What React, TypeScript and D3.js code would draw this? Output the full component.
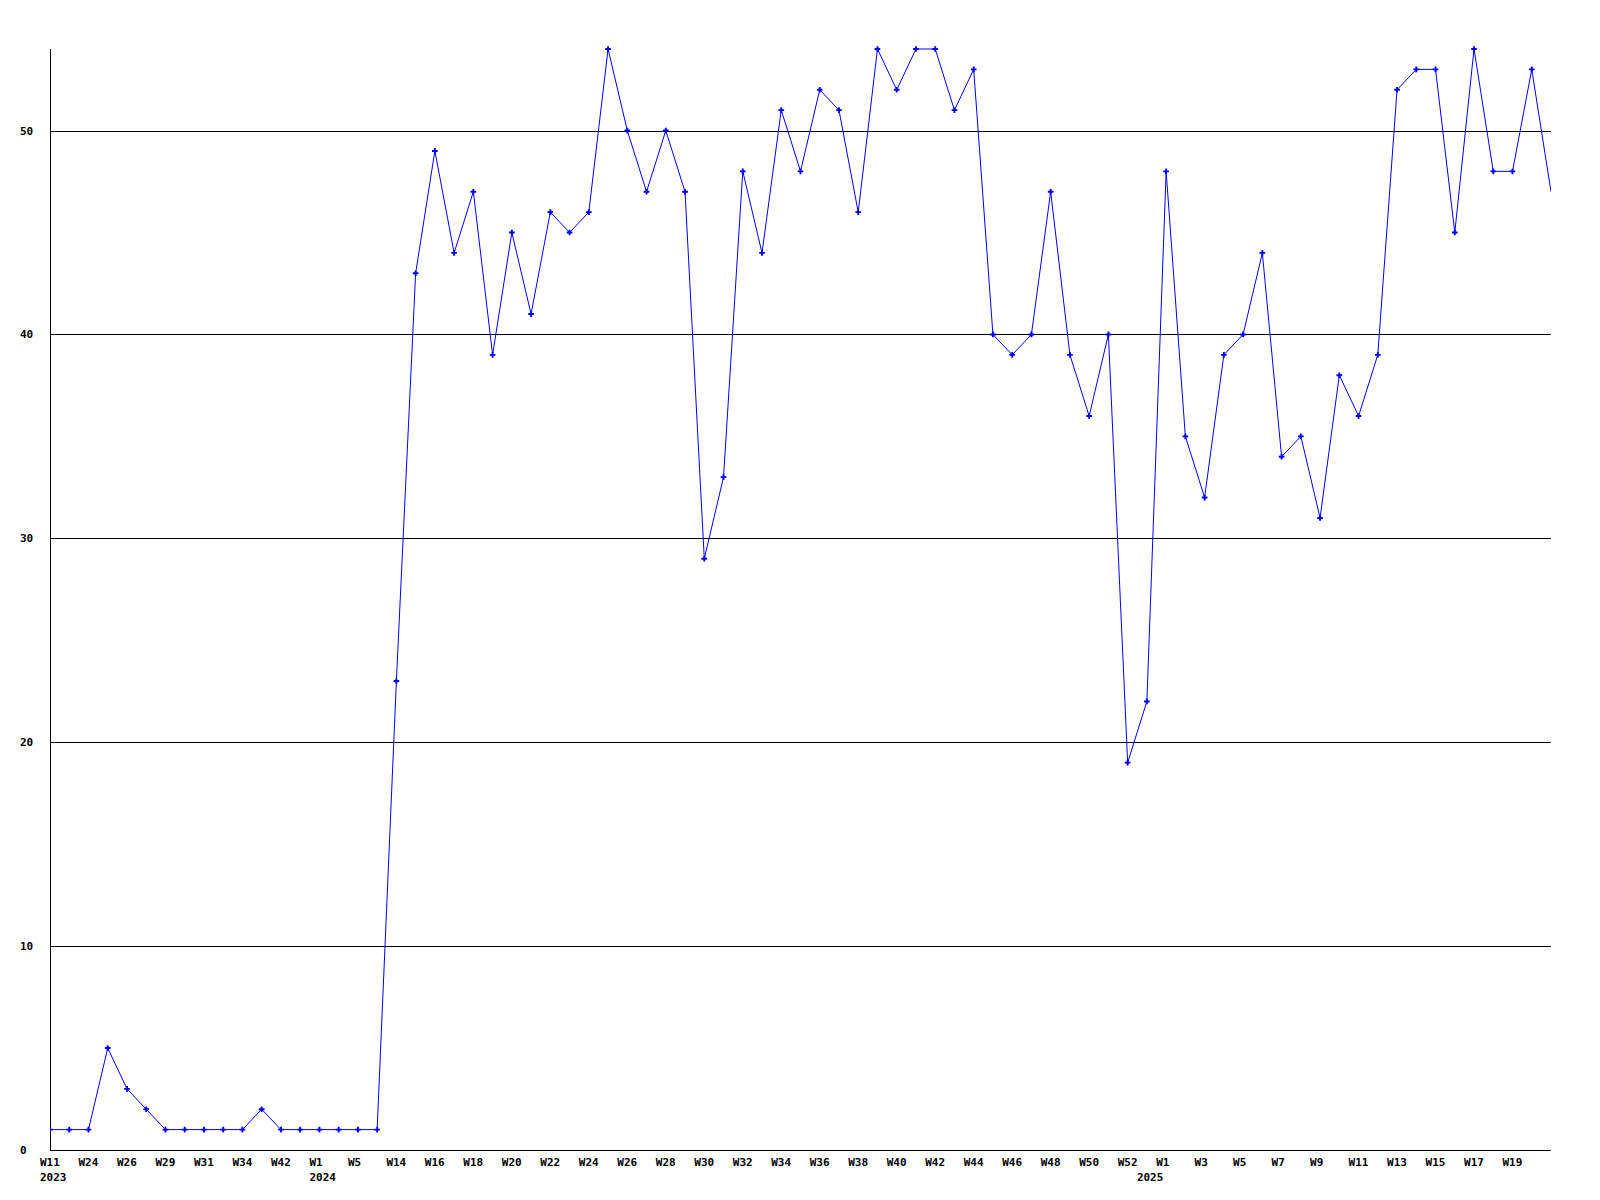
import React from 'react';
import * as d3 from 'd3';

// weekly counts, one per point (last one is the running week)
const values = [
  1, 1, 1, 5, 3, 2, 1, 1, 1, 1, 1, 2, 1, 1, 1, 1, 1, 1,
  23, 43, 49, 44, 47, 39, 45, 41, 46, 45, 46, 54, 50, 47, 50, 47, 29, 33,
  48, 44, 51, 48, 52, 51, 46, 54, 52, 54, 54, 51, 53, 40, 39, 40, 47, 39,
  36, 40, 19, 22, 48, 35, 32, 39, 40, 44, 34, 35, 31, 38, 36, 39, 52, 53,
  53, 45, 54, 48, 48, 53, 47,
];

// labels shown under every second point
const tickLabels = [
  'W11', 'W24', 'W26', 'W29', 'W31', 'W34', 'W42', 'W1', 'W5',
  'W14', 'W16', 'W18', 'W20', 'W22', 'W24', 'W26', 'W28', 'W30', 'W32', 'W34',
  'W36', 'W38', 'W40', 'W42', 'W44', 'W46', 'W48', 'W50', 'W52',
  'W1', 'W3', 'W5', 'W7', 'W9', 'W11', 'W13', 'W15', 'W17', 'W19',
];

const yearLabels = [
  { index: 0, year: '2023' },
  { index: 14, year: '2024' },
  { index: 57, year: '2025' },
];

const yTicks = [0, 10, 20, 30, 40, 50];

const W = 1600;
const H = 1200;
const left = 50;
const right = 1551;
const top = 49;
const bottom = 1150;

const font = '"DejaVu Sans Mono", "Liberation Mono", monospace';

export default function App() {
  const x = d3.scaleLinear().domain([0, values.length - 1]).range([left, right]);
  const y = d3.scaleLinear().domain([0, 54]).range([bottom, top]);

  const line = d3.line<number>()
    .x((_, i) => x(i))
    .y(d => y(d));

  const marker = d3.symbol().type(d3.symbolCross).size(18)();

  return (
    <svg width={W} height={H} style={{ position: 'absolute', left: 0, top: 0, background: '#fff' }}>
      <defs>
        <clipPath id="plot">
          <rect x={left} y={0} width={right - left} height={bottom + 1} />
        </clipPath>
      </defs>

      {/* grid */}
      {yTicks.filter(t => t > 0).map(t => (
        <line key={t} x1={left} x2={right} y1={Math.round(y(t)) + 0.5} y2={Math.round(y(t)) + 0.5}
          stroke="#000" strokeWidth={1} shapeRendering="crispEdges" />
      ))}

      {/* axes */}
      <line x1={left + 0.5} x2={left + 0.5} y1={top} y2={bottom} stroke="#000" shapeRendering="crispEdges" />
      <line x1={left} x2={right} y1={bottom + 0.5} y2={bottom + 0.5} stroke="#000" shapeRendering="crispEdges" />

      {/* y labels */}
      {yTicks.map(t => (
        <text key={t} x={20} y={Math.round(y(t)) + 4} fontFamily={font} fontWeight="bold" fontSize={11} fill="#000">
          {t}
        </text>
      ))}

      {/* x labels */}
      {tickLabels.map((l, k) => (
        <text key={k} x={x(k * 2) - 10} y={1166} fontFamily={font} fontWeight="bold" fontSize={11} fill="#000">
          {l}
        </text>
      ))}
      {yearLabels.map(d => (
        <text key={d.year} x={x(d.index) - 10} y={1181} fontFamily={font} fontWeight="bold" fontSize={11} fill="#000">
          {d.year}
        </text>
      ))}

      {/* series */}
      <g clipPath="url(#plot)">
        <path d={line(values) ?? ''} fill="none" stroke="#0000ff" strokeWidth={1} />
        {values.slice(0, -1).map((v, i) => (
          <path key={i} d={marker} transform={`translate(${x(i)},${y(v)})`} fill="#0000ff" />
        ))}
      </g>
    </svg>
  );
}
